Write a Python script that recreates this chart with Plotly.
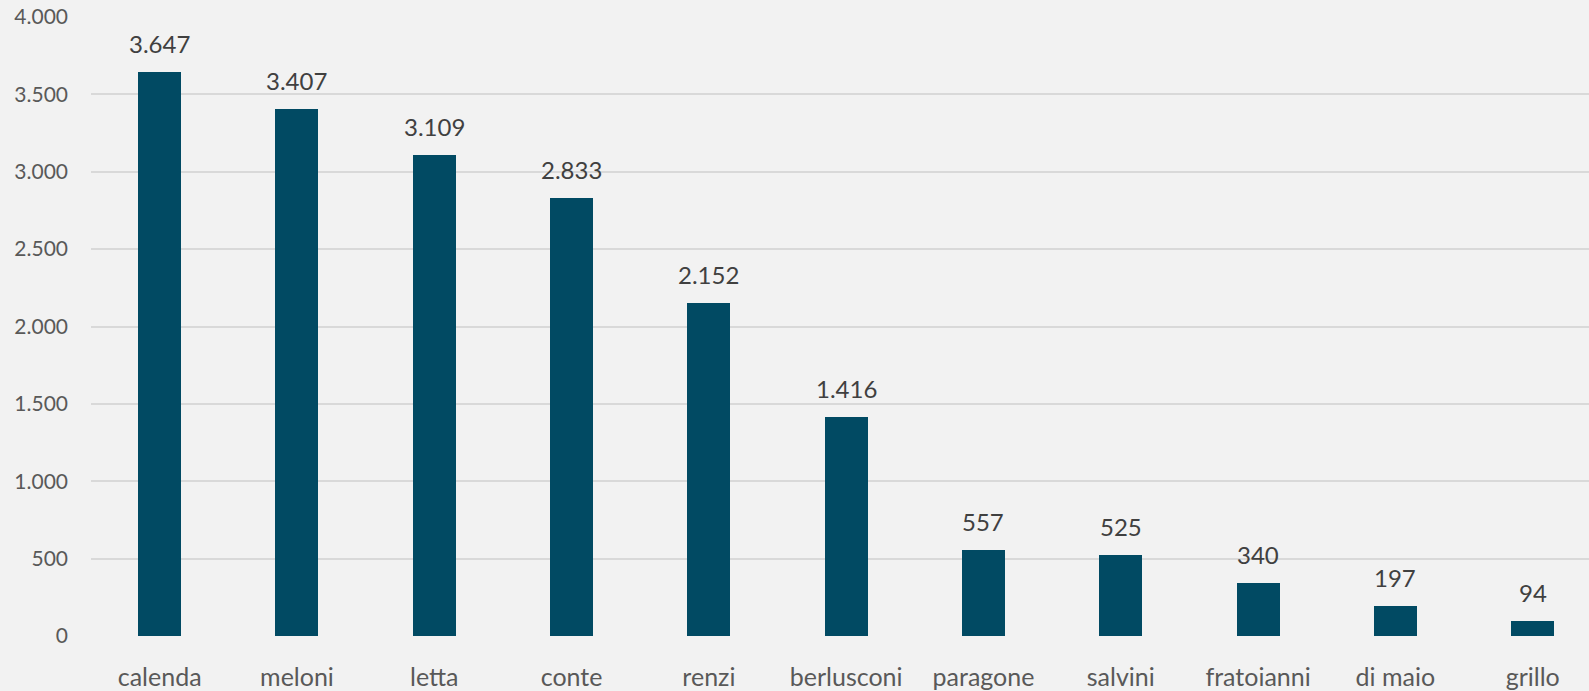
import plotly.graph_objects as go

categories = ["calenda", "meloni", "letta", "conte", "renzi", "berlusconi",
              "paragone", "salvini", "fratoianni", "di maio", "grillo"]
values = [3647, 3407, 3109, 2833, 2152, 1416, 557, 525, 340, 197, 94]
y_ticks = [0, 500, 1000, 1500, 2000, 2500, 3000, 3500, 4000]

def fmt(v):
    return f"{v:,}".replace(",", ".")

fig = go.Figure(go.Bar(
    x=categories, y=values,
    marker=dict(color="#014a63", line=dict(width=0)),
    width=0.313,
    hoverinfo="x+y",
))

for c, v in zip(categories, values):
    fig.add_annotation(
        x=c, y=v, text=fmt(v), showarrow=False,
        yanchor="bottom", yshift=12,
        font=dict(family="Lato", size=24, color="#404040"),
    )

fig.update_layout(
    width=1589, height=691,
    margin=dict(l=91, r=0, t=17, b=53),
    paper_bgcolor="#f2f2f2", plot_bgcolor="#f2f2f2",
    showlegend=False,
    bargap=0,
)
fig.update_xaxes(
    range=[-0.5, 10.41],
    showgrid=False, zeroline=False, showline=False,
    tickfont=dict(family="Lato", size=25, color="#595959"),
    ticklabelstandoff=24,
)
fig.update_yaxes(
    range=[0, 4000],
    tickvals=y_ticks, ticktext=[fmt(v) for v in y_ticks],
    showgrid=True, gridcolor="#d9d9d9", gridwidth=1.5,
    zeroline=False, showline=False,
    tickfont=dict(family="Lato", size=21, color="#595959"),
    ticklabelstandoff=22,
)

fig.write_html("out.html", config={"displayModeBar": False},
               post_script="document.body.style.margin='0';")
